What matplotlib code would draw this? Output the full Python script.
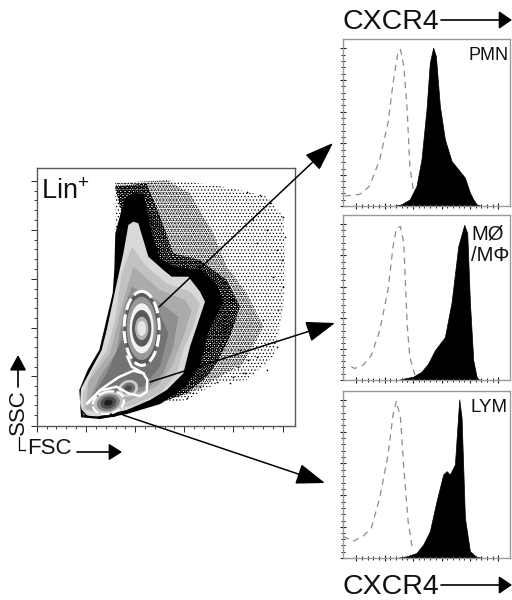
import numpy as np
import matplotlib
matplotlib.use("Agg")
import matplotlib.pyplot as plt
from matplotlib.patches import Polygon, Ellipse

plt.rcParams['font.family'] = ['Liberation Sans', 'DejaVu Sans']
plt.rcParams['mathtext.default'] = 'regular'
plt.rcParams['hatch.linewidth'] = 0.5

# ---- histogram data: x channel (0-100), y percent of panel height ----
pmn_x = [30, 35, 40, 44, 47, 50, 52, 54, 55.6, 58, 61, 65, 69, 73, 76, 78, 80, 83]
pmn_y = [0, 1, 4, 12, 28, 58, 86, 95, 90, 60, 40, 27, 22, 17, 8, 4, 1, 0]
pmn_iso_x = [1, 10, 16, 22, 27, 30, 33, 34.4, 36.4, 38.4, 40, 42]
pmn_iso_y = [6, 7, 12, 28, 50, 74, 93, 94, 84, 58, 24, 10]

mac_x = [33, 37, 42, 47, 51, 55, 61, 65, 69, 72.6, 74.4, 76, 78, 80, 81, 83]
mac_y = [0, 1, 2, 5, 10, 18, 26, 47, 81, 94, 89, 47, 12, 2, 0.5, 0]
mac_iso_x = [5, 7, 12, 17, 22, 27, 30, 32, 34.4, 36.4, 38.4, 40, 43]
mac_iso_y = [8, 7, 9, 15, 30, 55, 81, 92, 93, 83, 34, 14, 3]

lym_x = [32, 38, 44, 48, 52, 56, 60, 62, 64, 67, 69.6, 71, 73, 76, 80, 85]
lym_y = [0, 1, 3, 8, 16, 34, 50, 52, 50, 56, 95, 84, 24, 4, 0.6, 0]
lym_iso_x = [0, 6, 12, 17, 22, 27, 30, 32, 34.4, 36.4, 39, 41.6]
lym_iso_y = [13, 10, 13, 18, 36, 62, 86, 94, 84, 54, 22, 5]

panel_names = ["PMN", "M\u00d8\n/M\u03a6", "LYM"]

# ---- density regions of the FSC/SSC plot (scale = channel units of the axes) ----
cloud_x = [345, 500, 640, 720, 800, 850, 855, 850, 820, 740, 650, 560, 480, 540, 620, 350]
cloud_y = [70, 60, 75, 90, 110, 170, 300, 440, 590, 660, 670, 720, 730, 640, 400, 330]
mid_x = [345, 500, 570, 640, 680, 740, 790, 730, 660, 570, 500, 560, 600, 400]
mid_y = [70, 60, 100, 220, 320, 400, 500, 610, 650, 700, 720, 620, 400, 300]
dense_x = [345, 440, 480, 520, 600, 680, 720, 690, 650, 620, 560, 500, 560, 600, 400]
dense_y = [80, 70, 170, 280, 300, 360, 440, 530, 610, 650, 700, 720, 620, 400, 300]
black_x = [345, 348, 375, 400, 430, 450, 480, 530, 600, 650, 668, 625, 600, 555, 480, 380, 300, 245, 240, 265, 300, 340]
black_y = [330, 220, 120, 100, 105, 210, 300, 325, 330, 375, 430, 510, 610, 680, 730, 760, 775, 770, 690, 630, 570, 400]
g1_x = [385, 400, 415, 430, 445, 490, 515, 565, 600, 615, 590, 570, 550, 500, 450, 380, 290, 250, 240, 243, 270, 305, 320, 350, 370]
g1_y = [195, 185, 190, 240, 290, 330, 350, 350, 395, 425, 500, 560, 640, 690, 720, 750, 770, 765, 730, 685, 635, 570, 510, 370, 280]
g1b_x = [395, 440, 500, 570, 600, 580, 550, 530, 480, 400, 300, 250, 250, 275, 320, 345, 365]
g1b_y = [260, 320, 370, 395, 430, 500, 570, 640, 700, 735, 760, 750, 700, 640, 570, 480, 340]
g2_x = [400, 480, 555, 575, 550, 515, 470, 380, 290, 258, 265, 330, 365]
g2_y = [320, 390, 420, 450, 530, 620, 680, 725, 755, 745, 665, 580, 440]
g3_x = [395, 470, 535, 520, 490, 440, 380, 290, 268, 300, 350, 370]
g3_y = [380, 420, 470, 560, 640, 690, 705, 740, 720, 650, 575, 450]
g4_x = [385, 470, 505, 480, 430, 380, 300, 280, 320, 365]
g4_y = [410, 440, 520, 620, 680, 690, 725, 705, 640, 540]
# concentric contours of the main population: (width, height, grey)
ring_w = [105, 90, 72, 58, 40, 26]
ring_h = [222, 190, 150, 110, 70, 45]
ring_g = [0.35, 0.6, 0.95, 0.35, 0.7, 0.9]
low_w = [92, 70, 48, 26]
low_h = [62, 50, 36, 18]
low_g = [0.75, 0.5, 0.3, 0.12]
mid_w = [60, 42, 22]
mid_h = [50, 34, 18]
mid_g = [0.8, 0.45, 0.3]
# hand-read outlying events
dots_x = [740, 780, 810, 850, 855, 830, 845, 800, 760, 770, 820, 850, 835, 790, 720, 745, 800, 830, 770, 700, 730, 600, 580, 560, 650, 690, 715, 735]
dots_y = [95, 105, 130, 170, 230, 270, 300, 210, 180, 250, 350, 380, 450, 480, 570, 600, 630, 560, 590, 650, 640, 680, 700, 715, 665, 670, 620, 640]
# gate outlines
gate_mid_x = [382, 395, 430, 442, 440, 420, 385, 350, 300, 262]
gate_mid_y = [590, 620, 640, 660, 695, 708, 700, 680, 692, 730]
gate_mid2_x = [262, 300, 355, 400, 430]
gate_mid2_y = [730, 690, 652, 632, 640]
corner_x = [245, 262, 300, 345]
corner_y = [752, 770, 772, 768]
x_major = [110, 258, 405, 553, 700, 848]
y_major = [797, 648, 503, 357, 210, 63]

W, H = 512, 600
fig = plt.figure(figsize=(W / 100, H / 100), dpi=100, facecolor='white')

def box(l, t, r, b):
    return fig.add_axes([l / W, 1 - b / H, (r - l) / W, (b - t) / H])

# main density plot
ax = box(36.7, 168.3, 295, 425.7)
ax.set_xlim(110, 885)
ax.set_ylim(797, 25)
ax.add_patch(Polygon(np.c_[cloud_x, cloud_y], fc='none', ec='k', lw=0, hatch='.....'))
ax.add_patch(Polygon(np.c_[mid_x, mid_y], fc='none', ec='k', lw=0, hatch='.........'))
ax.add_patch(Polygon(np.c_[dense_x, dense_y], fc='none', ec='k', lw=0, hatch='OOOO.........'))
ax.scatter(dots_x, dots_y, s=1.5, c='k', lw=0)
ax.add_patch(Polygon(np.c_[black_x, black_y], fc='k', ec='k', lw=1))
for xs, ys, g in [(g1_x, g1_y, .85), (g1b_x, g1b_y, .76), (g2_x, g2_y, .67), (g3_x, g3_y, .56), (g4_x, g4_y, .45)]:
    ax.add_patch(Polygon(np.c_[xs, ys], fc=str(g), ec='none'))
for w, h, g in zip(ring_w, ring_h, ring_g):
    ax.add_patch(Ellipse((425, 505), w, h, fc=str(g), ec='none'))
for w, h, g in zip(low_w, low_h, low_g):
    ax.add_patch(Ellipse((325, 728), w, h, angle=-15, fc=str(g), ec='none'))
for w, h, g in zip(mid_w, mid_h, mid_g):
    ax.add_patch(Ellipse((385, 685), w, h, angle=-20, fc=str(g), ec='none'))
ax.add_patch(Ellipse((425, 505), 105, 222, fc='none', ec='white', lw=2.2, ls=(0, (4, 1.5))))
ax.add_patch(Ellipse((325, 728), 96, 66, angle=-15, fc='none', ec='white', lw=1.6, ls=(0, (4, 1))))
ax.plot(gate_mid_x, gate_mid_y, color='white', lw=1.8)
ax.plot(gate_mid2_x, gate_mid2_y, color='white', lw=1.8)
ax.plot(corner_x, corner_y, color='k', lw=1)
ax.set_xticks(x_major)
ax.set_yticks(y_major)
ax.set_xticks([v for a in x_major[:-1] for v in np.linspace(a, a + 147.5, 6)[1:-1]], minor=True)
ax.set_yticks([v for a in y_major[1:] for v in np.linspace(a, a + 146, 6)[1:-1]], minor=True)
ax.tick_params(labelbottom=False, labelleft=False, length=4, width=0.7, color='0.15', direction='out')
ax.tick_params(which='minor', length=2, width=0.6, color='0.15', direction='out')
for s in ax.spines.values():
    s.set_color('0.35')
    s.set_linewidth(1)

# histogram panels
panels = [(39.3, 206), (215, 380), (391, 558)]
hists = [(pmn_x, pmn_y, pmn_iso_x, pmn_iso_y), (mac_x, mac_y, mac_iso_x, mac_iso_y), (lym_x, lym_y, lym_iso_x, lym_iso_y)]
for (top, bot), (x, y, ix, iy) in zip(panels, hists):
    a = box(343, top, 510, bot)
    a.set_xlim(0, 100)
    a.set_ylim(0, 100)
    a.fill_between(x, y, color='k', lw=0.5)
    a.plot(ix, iy, color='0.55', lw=0.9, ls=(0, (5, 4)))
    majx = [8, 25, 42, 59, 76, 93]
    a.set_xticks(majx)
    a.set_xticks([v for m in majx[:-1] for v in np.linspace(m, m + 17, 6)[1:-1]], minor=True)
    majy = [0, 18.6, 37.6, 56.6, 75.6, 94.6]
    a.set_yticks(majy)
    a.set_yticks([v for m in majy[:-1] for v in np.linspace(m, m + 19, 6)[1:-1]], minor=True)
    a.tick_params(labelbottom=False, labelleft=False, length=4, width=0.8, color='0.1', direction='inout')
    a.tick_params(which='minor', length=2.2, width=0.7, color='0.1', direction='inout')
    for s in a.spines.values():
        s.set_color('0.6')
        s.set_linewidth(1)

# overlay in figure pixels for labels and arrows
ov = fig.add_axes([0, 0, 1, 1], facecolor='none')
ov.set_xlim(0, W)
ov.set_ylim(H, 0)
ov.axis('off')

def arrow(x0, y0, x1, y1, length=25, width=18, lw=1.1):
    pt = 72 / 100
    ov.annotate('', xy=(x1, y1), xytext=(x0, y0),
                arrowprops=dict(arrowstyle=f'-|>,head_length={length*pt/10},head_width={width*pt/20}',
                                mutation_scale=10, color='k', lw=lw, shrinkA=0, shrinkB=0))

arrow(159, 307, 333, 143)
arrow(150, 382, 335, 323)
arrow(123, 415, 325, 483)
arrow(441, 20, 512, 20, length=11, width=15, lw=1.2)
arrow(441, 585, 512, 585, length=11, width=15, lw=1.2)
arrow(77, 452, 122, 452, length=11, width=14, lw=1.2)
arrow(18, 387, 18, 355, length=13, width=14, lw=1.2)
ov.plot([18.5, 18.5, 25], [437, 450, 450], color='k', lw=0.9)

ov.text(342, 22, "CXCR4", fontsize=20.5, va='center', ha='left', color='#111111')
ov.text(342, 587, "CXCR4", fontsize=20.5, va='center', ha='left', color='#111111')
ov.text(41, 192, "Lin$^{+}$", fontsize=19.5, va='center', ha='left', color='#111111')
ov.text(27, 449, "FSC", fontsize=16, va='center', ha='left', color='#111111')
ov.text(18, 412, "SSC", fontsize=16, va='center', ha='center', rotation=90, color='#111111')
ov.text(509, 55, panel_names[0], fontsize=13, va='center', ha='right', color='#111111')
ov.text(471, 224, panel_names[1], fontsize=14.5, va='top', ha='left', color='#111111', linespacing=1.2)
ov.text(508, 407, panel_names[2], fontsize=13.5, va='center', ha='right', color='#111111')

fig.savefig('out.png', dpi=100)
